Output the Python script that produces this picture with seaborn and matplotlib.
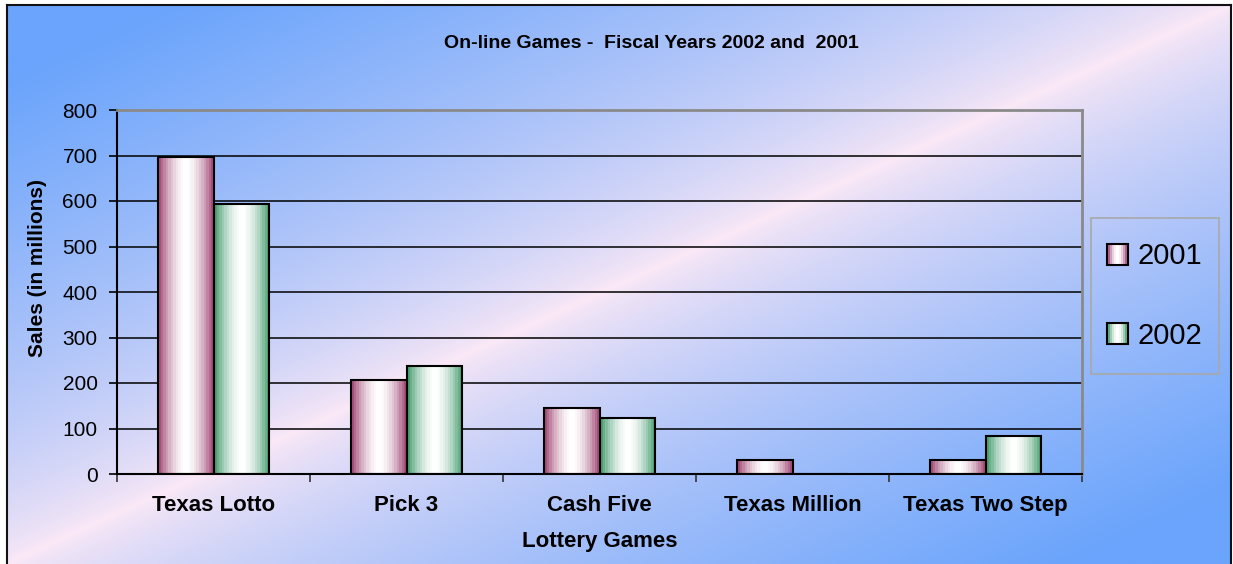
import numpy as np
import pandas as pd
import seaborn as sns
import matplotlib.pyplot as plt
from matplotlib.colors import to_rgb
from matplotlib.patches import Patch, Rectangle
from matplotlib.legend_handler import HandlerBase

games = ["Texas Lotto", "Pick 3", "Cash Five", "Texas Million", "Texas Two Step"]
sales_2001 = [697, 207, 144, 31, 31]
sales_2002 = [593, 238, 122, 0, 83]
years = ["2001", "2002"]

dark = {"2001": "#9e4170", "2002": "#3f9a6a"}

df = pd.DataFrame({
    "game": games * 2,
    "sales": sales_2001 + sales_2002,
    "year": [years[0]] * len(games) + [years[1]] * len(games),
})


def cylinder(color, n):
    c = np.array(to_rgb(color))
    s = (np.arange(n) + 0.5) / n
    f = np.abs(2 * s - 1) ** 1.7
    return np.ones((n, 3)) * (1 - f[:, None]) + c * f[:, None]


class StripeHandler(HandlerBase):
    def __init__(self, color):
        super().__init__()
        self.color = color

    def create_artists(self, legend, orig_handle, xdescent, ydescent, width, height, fontsize, trans):
        n = 9
        cols = cylinder(self.color, n)
        arts = []
        for i in range(n):
            arts.append(Rectangle((-xdescent + width * i / n, -ydescent), width / n, height,
                                  facecolor=cols[i], edgecolor="none", transform=trans))
        arts.append(Rectangle((-xdescent, -ydescent), width, height, facecolor="none",
                              edgecolor="black", lw=1.5, transform=trans))
        return arts


sns.set_theme(style="white")
plt.rcParams["font.family"] = ["Liberation Sans", "DejaVu Sans"]
plt.rcParams.update({"text.color": "black", "axes.labelcolor": "black",
                     "xtick.color": "black", "ytick.color": "black"})

W, H = 1233, 564
fig = plt.figure(figsize=(W / 100, H / 100), dpi=100)

# background gradient with outer border
bg = fig.add_axes([7 / W, 0, (1231 - 7) / W, (H - 5) / H], zorder=-10)
yy, xx = np.mgrid[0:1:300j, 0:1:600j]
t = np.clip(np.abs(xx + yy - 1.0) * 1.15, 0, 1) ** 0.7
blue = np.array(to_rgb("#6aa4fc"))
pink = np.array(to_rgb("#fce9f6"))
grad = pink * (1 - t[..., None]) + blue * t[..., None]
bg.imshow(grad, aspect="auto", extent=(0, 1, 0, 1), origin="upper")
bg.set_xticks([])
bg.set_yticks([])
for side, sp in bg.spines.items():
    sp.set_color("#111111")
    sp.set_linewidth(1.5)
bg.spines["bottom"].set_visible(False)

ax = fig.add_axes([117 / W, 1 - 474 / H, (1082 - 117) / W, (474 - 110) / H])
ax.patch.set_alpha(0)

sns.barplot(data=df, x="game", y="sales", hue="year", palette=dark, width=0.575,
            edgecolor="black", linewidth=1.5, legend=False, ax=ax)

for cont, yr in zip(ax.containers, years):
    cols = cylinder(dark[yr], 22)[None, :, :]
    for bar in cont:
        h = bar.get_height()
        if h <= 0:
            continue
        x0 = bar.get_x()
        w = bar.get_width()
        im = ax.imshow(cols, extent=(x0, x0 + w, 0, h), aspect="auto",
                       interpolation="nearest", zorder=2)
        im.set_clip_path(bar)
        bar.set_facecolor("none")
        bar.set_zorder(3)

ax.set_xlim(-0.5, 4.5)
ax.set_ylim(0, 800)
ax.set_yticks(range(0, 801, 100))
ax.yaxis.grid(True, color="black", lw=1.1)
ax.set_axisbelow(True)

ax.set_xticks(range(len(games)))
ax.set_xticklabels(games, fontsize=16, fontweight="bold")
ax.set_xticks(np.arange(-0.5, 4.6, 1), minor=True)
ax.tick_params(axis="x", which="major", length=0, pad=15)
ax.tick_params(axis="x", which="minor", length=6, width=1.2, color="#333333", direction="out", bottom=True)
ax.tick_params(axis="y", length=6, width=1.2, color="black", direction="out", left=True, labelsize=15, pad=8)

for side in ["left", "bottom"]:
    ax.spines[side].set_color("black")
    ax.spines[side].set_linewidth(1.5)
for side in ["top", "right"]:
    ax.spines[side].set_color("#8a8a8a")
    ax.spines[side].set_linewidth(2)

ax.set_xlabel("Lottery Games", fontsize=16, fontweight="bold")
ax.set_ylabel("Sales (in millions)", fontsize=15, fontweight="bold")
ax.xaxis.set_label_coords(0.5, (474 - 541) / 364)
ax.xaxis.label.set_va("center")
ax.yaxis.set_label_coords((38 - 117) / 965, 1 - (268 - 110) / 364)
ax.yaxis.label.set_va("center")

fig.text(651 / W, 1 - 43 / H, "On-line Games -  Fiscal Years 2002 and  2001",
         ha="center", va="center", fontsize=14, fontweight="bold")

# legend entries, with the box drawn separately
handles = [Patch(label=y) for y in years]
leg = ax.legend(handles=handles, labels=years,
                handler_map={handles[0]: StripeHandler(dark["2001"]),
                             handles[1]: StripeHandler(dark["2002"])},
                loc="center", bbox_to_anchor=((1091 + 1219) / 2 / W, 1 - (218 + 374) / 2 / H),
                bbox_transform=fig.transFigure, fontsize=21, frameon=False,
                labelspacing=1.75, borderpad=0, borderaxespad=0,
                handlelength=0.7, handleheight=0.75, handletextpad=0.35)
fig.patches.append(Rectangle((1091 / W, 1 - 374 / H), 128 / W, 156 / H,
                             transform=fig.transFigure, facecolor="none",
                             edgecolor="#a8a8a8", lw=1.2))

fig.savefig("out.png", dpi=100)
